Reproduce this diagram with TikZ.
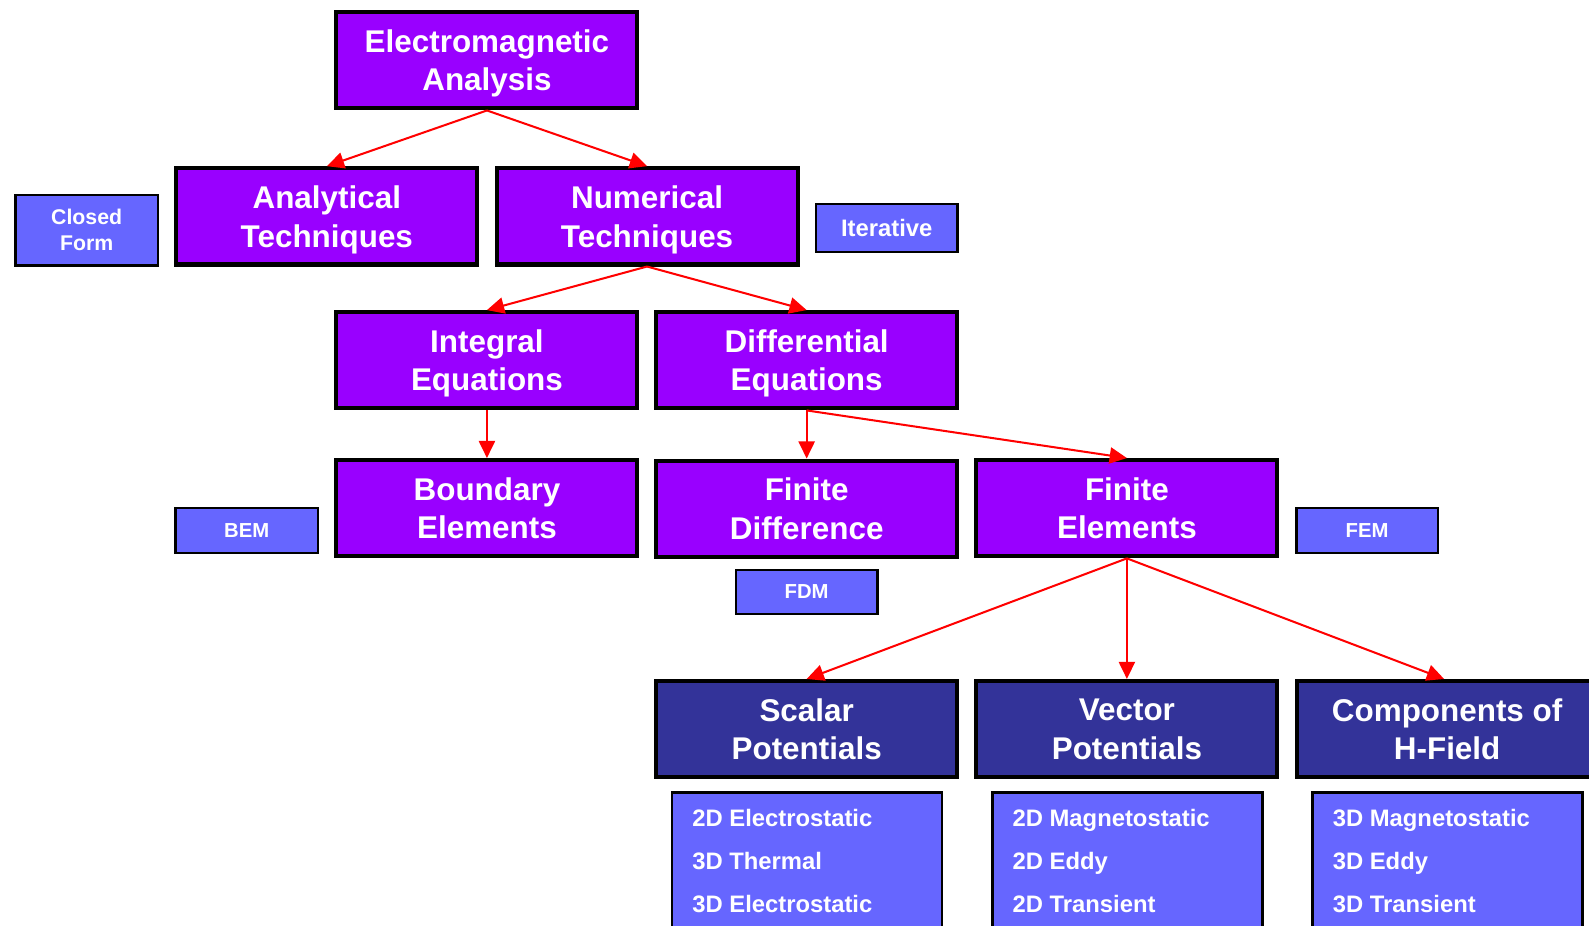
\documentclass[tikz,border=0pt]{standalone}
\usepackage{fontspec}
\setmainfont{Liberation Sans}
\usetikzlibrary{arrows.meta}
\definecolor{purp}{HTML}{9900FF}
\definecolor{dblue}{HTML}{333399}
\definecolor{lblue}{HTML}{6666FF}
\tikzset{
  bigbox/.style={draw=black, line width=4pt, fill=purp, text=white,
    font=\bfseries\fontsize{31}{38}\selectfont, align=center,
    minimum width=297pt, minimum height=95pt, inner sep=0pt, text depth=0pt,
    execute at begin node={\rule{0pt}{27pt}}},
  darkbox/.style={bigbox, fill=dblue},
  smallbox/.style={draw=black, line width=2.5pt, fill=lblue, text=white,
    font=\bfseries\fontsize{20}{26}\selectfont, align=center, inner sep=0pt},
  listbox/.style={draw=black, line width=2.5pt, fill=lblue, anchor=north,
    minimum width=266.5pt, minimum height=180pt, inner sep=0pt},
  listtext/.style={text=white, font=\bfseries\fontsize{23.5}{28}\selectfont,
    anchor=base west, inner sep=0pt},
  arr/.style={draw=red, line width=2pt, -{Triangle[length=17pt,width=16pt]}}
}
\begin{document}
\begin{tikzpicture}[x=1pt,y=-1pt]
\useasboundingbox (0,0) rectangle (1568,913);
\clip (0,0) rectangle (1568,913);
% main boxes
\node[bigbox] (em)  at (480.5,59.5) {Electromagnetic\\Analysis};
\node[bigbox] (ana) at (322.5,213.5) {Analytical\\Techniques};
\node[bigbox] (num) at (638.5,213.5) {Numerical\\Techniques};
\node[bigbox] (int) at (480.5,355.5) {Integral\\Equations};
\node[bigbox] (dif) at (796,355.5) {Differential\\Equations};
\node[bigbox] (bnd) at (480.5,501.5) {Boundary\\Elements};
\node[bigbox] (fd)  at (796,502) {Finite\\Difference};
\node[bigbox] (fe)  at (1112,501.5) {Finite\\Elements};
\node[darkbox] (sc) at (796,719.5) {Scalar\\Potentials};
\node[darkbox] (ve) at (1112,719.5) {Vector\\Potentials};
\node[darkbox] (co) at (1428,719.5) {Components of\\H-Field};
% small boxes
\node[smallbox, minimum width=140.5pt, minimum height=69.5pt,
  font=\bfseries\fontsize{21}{26}\selectfont] (cf) at (85.5,227) {Closed\\Form};
\node[smallbox, minimum width=139.5pt, minimum height=47.5pt,
  font=\bfseries\fontsize{23.5}{28}\selectfont] (it) at (875,225) {Iterative};
\node[smallbox, minimum width=140.5pt, minimum height=44.5pt] (bem) at (243.5,523.5) {BEM};
\node[smallbox, minimum width=139.5pt, minimum height=44.5pt] (fem) at (1349,523.5) {FEM};
\node[smallbox, minimum width=139.5pt, minimum height=43.5pt] (fdm) at (796,584) {FDM};
% lists
\node[listbox] (scl) at (796.5,781) {};
\node[listbox] (vel) at (1112.5,781) {};
\node[listbox] (col) at (1428.5,781) {};
\node[listtext] (s1) at (683,815.5) {2D Electrostatic};
\node[listtext] (s2) at (683,858) {3D Thermal};
\node[listtext] (s3) at (683,900.5) {3D Electrostatic};
\node[listtext] (v1) at (999,815.5) {2D Magnetostatic};
\node[listtext] (v2) at (999,858) {2D Eddy};
\node[listtext] (v3) at (999,900.5) {2D Transient};
\node[listtext] (c1) at (1315,815.5) {3D Magnetostatic};
\node[listtext] (c2) at (1315,858) {3D Eddy};
\node[listtext] (c3) at (1315,900.5) {3D Transient};
% arrows
\draw[arr] (em.south) -- (ana.north);
\draw[arr] (em.south) -- (num.north);
\draw[arr] (num.south) -- (int.north);
\draw[arr] (num.south) -- (dif.north);
\draw[arr] (int.south) -- (bnd.north);
\draw[arr] (dif.south) -- (fd.north);
\draw[arr] (dif.south) -- (fe.north);
\draw[arr] (fe.south) -- (sc.north);
\draw[arr] (fe.south) -- (ve.north);
\draw[arr] (fe.south) -- ([xshift=-3pt]co.north);
\end{tikzpicture}
\end{document}
